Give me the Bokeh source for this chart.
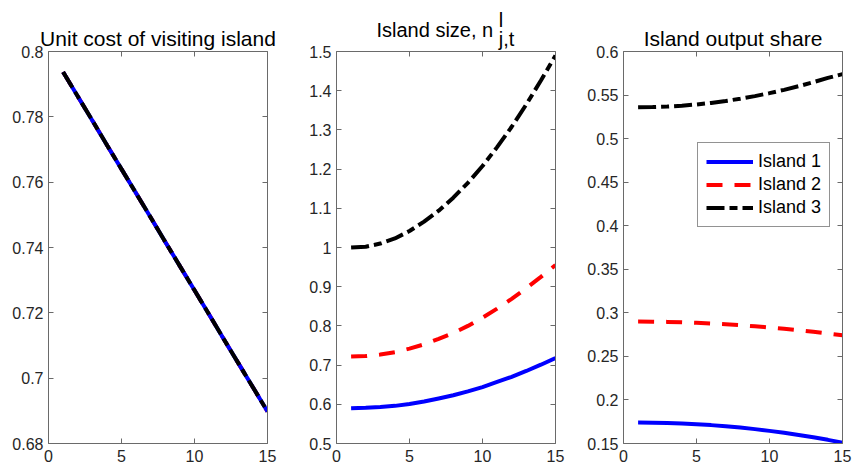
from bokeh.plotting import figure
from bokeh.layouts import row
from bokeh.models import Range1d, FixedTicker, LinearAxis, Title
from bokeh.embed import file_html
from bokeh.resources import INLINE

# ---------------- data ----------------
t = [1, 2, 3, 4, 5, 6, 7, 8, 9, 10, 11, 12, 13, 14, 15]

cost_island1 = [0.7937, 0.7863, 0.7789, 0.7714, 0.7640, 0.7566, 0.7492, 0.7417,
                0.7343, 0.7269, 0.7195, 0.7120, 0.7046, 0.6972, 0.6898]
cost_island2 = [0.7937, 0.7863, 0.7789, 0.7714, 0.7640, 0.7566, 0.7492, 0.7417,
                0.7343, 0.7269, 0.7195, 0.7120, 0.7046, 0.6972, 0.6898]
cost_island3 = [0.7937, 0.7863, 0.7789, 0.7714, 0.7640, 0.7566, 0.7492, 0.7417,
                0.7343, 0.7269, 0.7195, 0.7120, 0.7046, 0.6972, 0.6898]

size_island1 = [0.590, 0.591, 0.593, 0.596, 0.601, 0.607, 0.615, 0.623,
                0.633, 0.644, 0.657, 0.670, 0.685, 0.701, 0.718]
size_island2 = [0.722, 0.723, 0.727, 0.733, 0.742, 0.753, 0.767, 0.782,
                0.800, 0.821, 0.844, 0.869, 0.896, 0.925, 0.955]
size_island3 = [1.000, 1.002, 1.010, 1.023, 1.042, 1.066, 1.094, 1.127,
                1.165, 1.208, 1.256, 1.308, 1.365, 1.426, 1.490]

share_island1 = [0.1740, 0.1739, 0.1735, 0.1729, 0.1721, 0.1711, 0.1698, 0.1683,
                 0.1665, 0.1645, 0.1623, 0.1598, 0.1571, 0.1542, 0.1510]
share_island2 = [0.2900, 0.2899, 0.2896, 0.2892, 0.2886, 0.2878, 0.2869, 0.2858,
                 0.2846, 0.2832, 0.2817, 0.2800, 0.2782, 0.2763, 0.2743]
share_island3 = [0.5360, 0.5362, 0.5368, 0.5378, 0.5392, 0.5410, 0.5432, 0.5458,
                 0.5488, 0.5522, 0.5560, 0.5602, 0.5648, 0.5697, 0.5740]

series_names = ["Island 1", "Island 2", "Island 3"]

x_ticks = [0, 5, 10, 15]
x_tick_labels = ["0", "5", "10", "15"]

cost_ticks = [0.68, 0.70, 0.72, 0.74, 0.76, 0.78, 0.80]
cost_tick_labels = ["0.68", "0.7", "0.72", "0.74", "0.76", "0.78", "0.8"]

size_ticks = [0.5, 0.6, 0.7, 0.8, 0.9, 1.0, 1.1, 1.2, 1.3, 1.4, 1.5]
size_tick_labels = ["0.5", "0.6", "0.7", "0.8", "0.9", "1", "1.1", "1.2", "1.3", "1.4", "1.5"]

share_ticks = [0.15, 0.20, 0.25, 0.30, 0.35, 0.40, 0.45, 0.50, 0.55, 0.60]
share_tick_labels = ["0.15", "0.2", "0.25", "0.3", "0.35", "0.4", "0.45", "0.5", "0.55", "0.6"]

title_cost = "Unit cost of visiting island"
title_size_main = "Island size, n"
title_size_sup = "l"
title_size_sub = "j,t"
title_share = "Island output share"

# ---------------- style ----------------
FONT = "Liberation Sans"
AXIS_COLOR = "#6a6a6a"
LABEL_COLOR = "#262626"
COLORS = ["#0000ff", "#ff0000", "#000000"]
DASHES = ["solid", "16 12", "18 5 8 5"]
LW = 4

FRAME_W = 219
FRAME_H = 392
TOP = 51
BOTTOM = 25
NBSP = "\u00a0"


def style_axis(ax, ticks, labels, show_labels=True):
    ax.ticker = FixedTicker(ticks=ticks)
    ax.axis_line_color = AXIS_COLOR
    ax.axis_line_width = 1
    ax.major_tick_line_color = AXIS_COLOR
    ax.major_tick_in = 5
    ax.major_tick_out = 0
    ax.minor_tick_line_color = None
    ax.major_label_text_font = FONT
    if show_labels:
        ax.major_label_overrides = {tk: lb for tk, lb in zip(ticks, labels)}
        ax.major_label_text_color = LABEL_COLOR
        ax.major_label_text_font_size = "16px"
    else:
        ax.major_label_text_color = None
        ax.major_label_text_font_size = "0px"
        ax.major_label_standoff = 0


def make_panel(left, right, yr, yticks, ylabels, ys, legend=False, order=(0, 1, 2)):
    p = figure(width=left + FRAME_W + right, height=TOP + FRAME_H + BOTTOM,
               x_range=Range1d(0, 15), y_range=Range1d(*yr),
               output_backend="svg", toolbar_location=None,
               min_border_left=left, min_border_right=right,
               min_border_top=TOP, min_border_bottom=BOTTOM)
    p.xgrid.visible = False
    p.ygrid.visible = False
    p.outline_line_color = None
    p.background_fill_color = "white"
    p.border_fill_color = "white"

    style_axis(p.xaxis[0], x_ticks, x_tick_labels)
    p.xaxis[0].major_label_standoff = 6
    style_axis(p.yaxis[0], yticks, ylabels)
    p.yaxis[0].major_label_standoff = 5

    top_ax = LinearAxis()
    style_axis(top_ax, x_ticks, x_tick_labels, show_labels=False)
    p.add_layout(top_ax, "above")
    right_ax = LinearAxis()
    style_axis(right_ax, yticks, ylabels, show_labels=False)
    p.add_layout(right_ax, "right")

    for i in order:
        kw = dict(line_color=COLORS[i], line_width=LW, line_dash=DASHES[i])
        if legend:
            kw["legend_label"] = series_names[i]
        p.line(t, ys[i], **kw)
    return p


def set_title(p, text, size, standoff, align="center", offset=0, line_height=1.2):
    p.title = Title(text=text, text_font=FONT, text_font_size=size,
                    text_font_style="normal", text_color="black",
                    text_line_height=line_height,
                    align=align, offset=offset, standoff=standoff)


# overlapping series in the first panel: island 2 drawn first so island 1 shows in the gaps
p1 = make_panel(48, 29, (0.68, 0.80), cost_ticks, cost_tick_labels,
                [cost_island1, cost_island2, cost_island3], order=(1, 0, 2))
set_title(p1, title_cost, "21px", 3)

p2 = make_panel(40, 29, (0.5, 1.5), size_ticks, size_tick_labels,
                [size_island1, size_island2, size_island3])
# three baselines 9px apart: superscript / main text / subscript
title2 = (NBSP * 22 + title_size_sup + "\n" + title_size_main + "\n"
          + NBSP * 22 + title_size_sub)
set_title(p2, title2, "20px", 2, align="left", offset=40, line_height=0.45)

p3 = make_panel(39, 10, (0.15, 0.60), share_ticks, share_tick_labels,
                [share_island1, share_island2, share_island3], legend=True)
set_title(p3, title_share, "21px", 3)

lg = p3.legend[0]
lg.location = (74, 216)
lg.margin = 0
lg.padding = 8
lg.spacing = 2
lg.glyph_width = 47
lg.glyph_height = 21
lg.label_height = 21
lg.label_standoff = 5
lg.label_text_font = FONT
lg.label_text_font_size = "18px"
lg.label_text_color = "black"
lg.border_line_color = "#262626"
lg.border_line_width = 1
lg.background_fill_color = "white"
lg.background_fill_alpha = 1.0

layout = row(p1, p2, p3, spacing=0)
open("out.html", "w").write(file_html(layout, INLINE))
